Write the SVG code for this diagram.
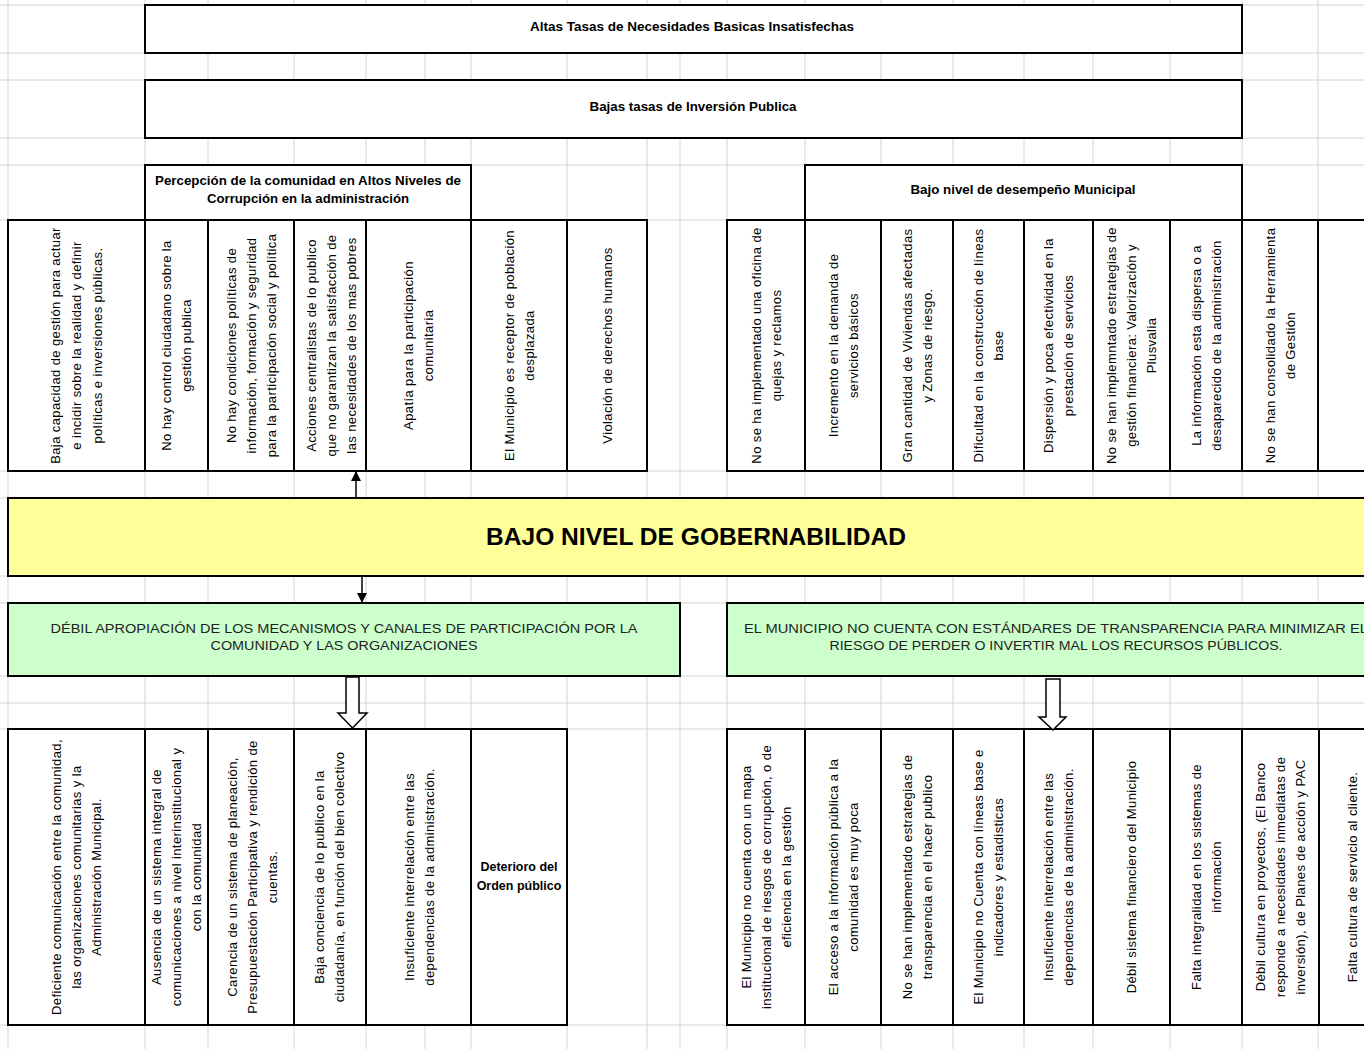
<svg xmlns="http://www.w3.org/2000/svg" width="1364" height="1049" viewBox="0 0 1364 1049">
<defs>
<style>
.grid line{stroke:#d4d4d4;stroke-width:1}
.box{fill:#fff;stroke:#000;stroke-width:2}
.yel{fill:#ffff99;stroke:#000;stroke-width:2}
.grn{fill:#ccffcc;stroke:#000;stroke-width:2}
.h{font-family:"Liberation Sans",Arial,sans-serif;font-size:12.5px;font-weight:bold;fill:#000;text-anchor:middle}
.v{font-family:"Liberation Sans",Arial,sans-serif;font-size:13px;letter-spacing:0.4px;fill:#000;text-anchor:middle}
.g{font-family:"Liberation Sans",Arial,sans-serif;font-size:12.5px;fill:#222;text-anchor:middle}
.big{font-family:"Liberation Sans",Arial,sans-serif;font-size:24px;font-weight:bold;fill:#000;text-anchor:middle}
.conn line{stroke:#000;stroke-width:1.5}
.blk{fill:#fff;stroke:#000;stroke-width:1.5}
</style>
<marker id="ah" viewBox="0 0 10 10" refX="9" refY="5" markerWidth="10" markerHeight="10" markerUnits="userSpaceOnUse" orient="auto">
<path d="M0,0 L10,5 L0,10 Z" fill="#000"/>
</marker>
</defs>
<rect width="1364" height="1049" fill="#fff"/>
<g class="grid">
<line x1="8" y1="0" x2="8" y2="1049"/><line x1="145" y1="0" x2="145" y2="1049"/><line x1="208" y1="0" x2="208" y2="1049"/><line x1="294" y1="0" x2="294" y2="1049"/><line x1="366" y1="0" x2="366" y2="1049"/><line x1="425" y1="0" x2="425" y2="1049"/><line x1="471" y1="0" x2="471" y2="1049"/><line x1="567" y1="0" x2="567" y2="1049"/><line x1="647" y1="0" x2="647" y2="1049"/><line x1="680" y1="0" x2="680" y2="1049"/><line x1="727" y1="0" x2="727" y2="1049"/><line x1="805" y1="0" x2="805" y2="1049"/><line x1="881" y1="0" x2="881" y2="1049"/><line x1="953" y1="0" x2="953" y2="1049"/><line x1="1024" y1="0" x2="1024" y2="1049"/><line x1="1093" y1="0" x2="1093" y2="1049"/><line x1="1170" y1="0" x2="1170" y2="1049"/><line x1="1242" y1="0" x2="1242" y2="1049"/><line x1="1318" y1="0" x2="1318" y2="1049"/>
<line x1="0" y1="5" x2="1364" y2="5"/><line x1="0" y1="53" x2="1364" y2="53"/><line x1="0" y1="80" x2="1364" y2="80"/><line x1="0" y1="138" x2="1364" y2="138"/><line x1="0" y1="165" x2="1364" y2="165"/><line x1="0" y1="220" x2="1364" y2="220"/><line x1="0" y1="471" x2="1364" y2="471"/><line x1="0" y1="498" x2="1364" y2="498"/><line x1="0" y1="576" x2="1364" y2="576"/><line x1="0" y1="603" x2="1364" y2="603"/><line x1="0" y1="676" x2="1364" y2="676"/><line x1="0" y1="703" x2="1364" y2="703"/><line x1="0" y1="729" x2="1364" y2="729"/><line x1="0" y1="1025" x2="1364" y2="1025"/>
</g>

<g id="altas-tasas"><rect class="box" x="145" y="5" width="1097" height="48"/><text class="h" x="692" y="31" textLength="324" lengthAdjust="spacingAndGlyphs">Altas Tasas de Necesidades Basicas Insatisfechas</text></g>
<g id="bajas-tasas"><rect class="box" x="145" y="80" width="1097" height="58"/><text class="h" x="693" y="111" textLength="207" lengthAdjust="spacingAndGlyphs">Bajas tasas de Inversión Publica</text></g>
<g id="percepcion"><rect class="box" x="145" y="165" width="326" height="55"/><text class="h"><tspan x="308" y="185" textLength="306" lengthAdjust="spacingAndGlyphs">Percepción de la comunidad en Altos Niveles de</tspan><tspan x="308" y="203" textLength="202" lengthAdjust="spacingAndGlyphs">Corrupción en la administración</tspan></text></g>
<g id="desempeno"><rect class="box" x="805" y="165" width="437" height="55"/><text class="h" x="1023" y="194" textLength="225" lengthAdjust="spacingAndGlyphs">Bajo nivel de desempeño Municipal</text></g>

<g id="c1"><rect class="box" x="8" y="220" width="137" height="251"/><text class="v" transform="translate(76.5,345.5) rotate(-90)"><tspan x="0" y="-16.5">Baja capacidad de gestión para actuar</tspan><tspan x="0" y="4.5">e incidir sobre la realidad y definir</tspan><tspan x="0" y="25.5">políticas e inversiones públicas.</tspan></text></g>
<g id="c2"><rect class="box" x="145" y="220" width="63" height="251"/><text class="v" transform="translate(176.5,345.5) rotate(-90)"><tspan x="0" y="-5.5">No hay control ciudadano sobre la</tspan><tspan x="0" y="14.5">gestión publica</tspan></text></g>
<g id="c3"><rect class="box" x="208" y="220" width="86" height="251"/><text class="v" transform="translate(251,345.5) rotate(-90)"><tspan x="0" y="-15.5">No hay condiciones políticas de</tspan><tspan x="0" y="4.5">información, formación y seguridad</tspan><tspan x="0" y="24.5">para la participación social y política</tspan></text></g>
<g id="c4"><rect class="box" x="294" y="220" width="72" height="251"/><text class="v" transform="translate(331,345.5) rotate(-90)"><tspan x="0" y="-15.5">Acciones centralistas de lo publico</tspan><tspan x="0" y="4.5">que no garantizan la satisfacción de</tspan><tspan x="0" y="24.5">las necesidades de los mas pobres</tspan></text></g>
<g id="c5"><rect class="box" x="366" y="220" width="105" height="251"/><text class="v" transform="translate(418.5,345.5) rotate(-90)"><tspan x="0" y="-5.5">Apatía para la participación</tspan><tspan x="0" y="14.5">comunitaria</tspan></text></g>
<g id="c6"><rect class="box" x="471" y="220" width="96" height="251"/><text class="v" transform="translate(519,345.5) rotate(-90)"><tspan x="0" y="-5.5">El Municipio es receptor de población</tspan><tspan x="0" y="14.5">desplazada</tspan></text></g>
<g id="c7"><rect class="box" x="567" y="220" width="80" height="251"/><text class="v" transform="translate(607,345.5) rotate(-90)"><tspan x="0" y="4.5">Violación de derechos humanos</tspan></text></g>
<g id="c8"><rect class="box" x="727" y="220" width="78" height="251"/><text class="v" transform="translate(766,345.5) rotate(-90)"><tspan x="0" y="-5.5">No se ha implementado una oficina de</tspan><tspan x="0" y="14.5">quejas y reclamos</tspan></text></g>
<g id="c9"><rect class="box" x="805" y="220" width="76" height="251"/><text class="v" transform="translate(843,345.5) rotate(-90)"><tspan x="0" y="-5.5">Incremento en la demanda de</tspan><tspan x="0" y="14.5">servicios básicos</tspan></text></g>
<g id="c10"><rect class="box" x="881" y="220" width="72" height="251"/><text class="v" transform="translate(917,345.5) rotate(-90)"><tspan x="0" y="-5.5">Gran cantidad de Viviendas afectadas</tspan><tspan x="0" y="14.5">y Zonas de riesgo.</tspan></text></g>
<g id="c11"><rect class="box" x="953" y="220" width="71" height="251"/><text class="v" transform="translate(988.5,345.5) rotate(-90)"><tspan x="0" y="-5.5">Dificultad en la construcción de líneas</tspan><tspan x="0" y="14.5">base</tspan></text></g>
<g id="c12"><rect class="box" x="1024" y="220" width="69" height="251"/><text class="v" transform="translate(1058.5,345.5) rotate(-90)"><tspan x="0" y="-5.5">Dispersión y poca efectividad en la</tspan><tspan x="0" y="14.5">prestación de servicios</tspan></text></g>
<g id="c13"><rect class="box" x="1093" y="220" width="77" height="251"/><text class="v" transform="translate(1131.5,345.5) rotate(-90)"><tspan x="0" y="-15.5">No se han implemntado estrategias de</tspan><tspan x="0" y="4.5">gestión financiera: Valorización y</tspan><tspan x="0" y="24.5">Plusvalia</tspan></text></g>
<g id="c14"><rect class="box" x="1170" y="220" width="72" height="251"/><text class="v" transform="translate(1206,345.5) rotate(-90)"><tspan x="0" y="-5.5">La información esta dispersa o a</tspan><tspan x="0" y="14.5">desaparecido de la administración</tspan></text></g>
<g id="c15"><rect class="box" x="1242" y="220" width="76" height="251"/><text class="v" transform="translate(1280,345.5) rotate(-90)"><tspan x="0" y="-5.5">No se han consolidado la Herramienta</tspan><tspan x="0" y="14.5">de Gestión</tspan></text></g>
<g id="c16"><rect class="box" x="1318" y="220" width="80" height="251"/></g>

<g id="gobernabilidad"><rect class="yel" x="8" y="498" width="1390" height="78"/><text class="big" x="696" y="545" textLength="420" lengthAdjust="spacingAndGlyphs">BAJO NIVEL DE GOBERNABILIDAD</text></g>

<g id="participacion"><rect class="grn" x="8" y="603" width="672" height="73"/><text class="g"><tspan x="344" y="633" textLength="587" lengthAdjust="spacingAndGlyphs">DÉBIL APROPIACIÓN DE LOS MECANISMOS Y CANALES DE PARTICIPACIÓN POR LA</tspan><tspan x="344" y="650" textLength="267" lengthAdjust="spacingAndGlyphs">COMUNIDAD Y LAS ORGANIZACIONES</tspan></text></g>
<g id="transparencia"><rect class="grn" x="727" y="603" width="671" height="73"/><text class="g"><tspan x="1056" y="633" textLength="624" lengthAdjust="spacingAndGlyphs">EL MUNICIPIO NO CUENTA CON ESTÁNDARES DE TRANSPARENCIA PARA MINIMIZAR EL</tspan><tspan x="1056" y="650" textLength="453" lengthAdjust="spacingAndGlyphs">RIESGO DE PERDER O INVERTIR MAL LOS RECURSOS PÚBLICOS.</tspan></text></g>

<g id="b1"><rect class="box" x="8" y="729" width="137" height="296"/><text class="v" transform="translate(76.5,877) rotate(-90)"><tspan x="0" y="-15.5">Deficiente comunicación entre la comunidad,</tspan><tspan x="0" y="4.5">las organizaciones comunitarias y la</tspan><tspan x="0" y="24.5">Administración Municipal.</tspan></text></g>
<g id="b2"><rect class="box" x="145" y="729" width="63" height="296"/><text class="v" transform="translate(176.5,877) rotate(-90)"><tspan x="0" y="-15.5">Ausencia de un sistema integral de</tspan><tspan x="0" y="4.5">comunicaciones a nivel interinstitucional y</tspan><tspan x="0" y="24.5">con la comunidad</tspan></text></g>
<g id="b3"><rect class="box" x="208" y="729" width="86" height="296"/><text class="v" transform="translate(252,877) rotate(-90)"><tspan x="0" y="-15.5">Carencia de un sistema de planeación,</tspan><tspan x="0" y="4.5">Presupuestación Participativa y rendición de</tspan><tspan x="0" y="24.5">cuentas.</tspan></text></g>
<g id="b4"><rect class="box" x="294" y="729" width="72" height="296"/><text class="v" transform="translate(329,877) rotate(-90)"><tspan x="0" y="-5.5">Baja conciencia de lo publico en la</tspan><tspan x="0" y="14.5">ciudadanía, en función del bien colectivo</tspan></text></g>
<g id="b5"><rect class="box" x="366" y="729" width="105" height="296"/><text class="v" transform="translate(419,877) rotate(-90)"><tspan x="0" y="-5.5">Insuficiente interrelación entre las</tspan><tspan x="0" y="14.5">dependencias de la administración.</tspan></text></g>
<g id="b6"><rect class="box" x="471" y="729" width="96" height="296"/><text class="h" font-size="13"><tspan x="519" y="871">Deterioro del</tspan><tspan x="519" y="890">Orden público</tspan></text></g>
<g id="b7"><rect class="box" x="727" y="729" width="78" height="296"/><text class="v" transform="translate(766,877) rotate(-90)"><tspan x="0" y="-15.5">El Municipio no cuenta con un mapa</tspan><tspan x="0" y="4.5">institucional de riesgos de corrupción, o de</tspan><tspan x="0" y="24.5">eficiencia en la gestión</tspan></text></g>
<g id="b8"><rect class="box" x="805" y="729" width="76" height="296"/><text class="v" transform="translate(843,877) rotate(-90)"><tspan x="0" y="-5.5">El acceso a la información pública a la</tspan><tspan x="0" y="14.5">comunidad es muy poca</tspan></text></g>
<g id="b9"><rect class="box" x="881" y="729" width="72" height="296"/><text class="v" transform="translate(917,877) rotate(-90)"><tspan x="0" y="-5.5">No se han implementado estrategias de</tspan><tspan x="0" y="14.5">transparencia en el hacer publico</tspan></text></g>
<g id="b10"><rect class="box" x="953" y="729" width="71" height="296"/><text class="v" transform="translate(988.5,877) rotate(-90)"><tspan x="0" y="-5.5">El Municipio no Cuenta con líneas base e</tspan><tspan x="0" y="14.5">indicadores y estadisticas</tspan></text></g>
<g id="b11"><rect class="box" x="1024" y="729" width="69" height="296"/><text class="v" transform="translate(1058.5,877) rotate(-90)"><tspan x="0" y="-5.5">Insuficiente interrelación entre las</tspan><tspan x="0" y="14.5">dependencias de la administración.</tspan></text></g>
<g id="b12"><rect class="box" x="1093" y="729" width="77" height="296"/><text class="v" transform="translate(1131.5,877) rotate(-90)"><tspan x="0" y="4.5">Débil sistema financiero del Municipio</tspan></text></g>
<g id="b13"><rect class="box" x="1170" y="729" width="72" height="296"/><text class="v" transform="translate(1206,877) rotate(-90)"><tspan x="0" y="-5.5">Falta integralidad en los sistemas de</tspan><tspan x="0" y="14.5">información</tspan></text></g>
<g id="b14"><rect class="box" x="1242" y="729" width="77" height="296"/><text class="v" transform="translate(1280.5,877) rotate(-90)"><tspan x="0" y="-15.5">Débil cultura en proyectos, (El Banco</tspan><tspan x="0" y="4.5">responde a necesidades inmediatas de</tspan><tspan x="0" y="24.5">inversión), de Planes de acción y PAC</tspan></text></g>
<g id="b15"><rect class="box" x="1319" y="729" width="80" height="296"/><text class="v" transform="translate(1352,877) rotate(-90)"><tspan x="0" y="4.5">Falta cultura de servicio al cliente.</tspan></text></g>

<g id="connectors" class="conn">
<line x1="356" y1="498" x2="356" y2="472" marker-end="url(#ah)"/>
<line x1="362" y1="576" x2="362" y2="602" marker-end="url(#ah)"/>
<polygon class="blk" points="346,677 359,677 359,713 367,713 352.5,728 338,713 346,713"/>
<polygon class="blk" points="1046,679 1060,679 1060,717 1066,717 1053,730 1039,717 1046,717"/>
</g>
</svg>
